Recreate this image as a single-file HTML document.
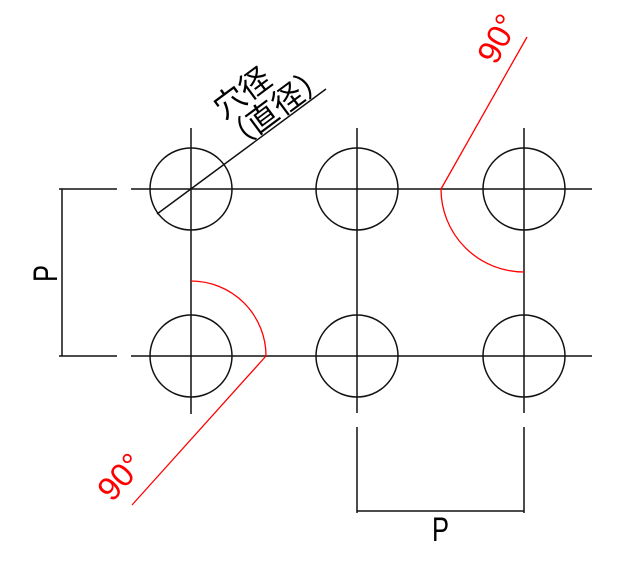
<!DOCTYPE html>
<html><head><meta charset="utf-8"><style>
html,body{margin:0;padding:0;background:#fff;}
svg{display:block;}
text{font-family:"Liberation Sans","Noto Sans CJK JP",sans-serif;}
</style></head><body>
<svg width="644" height="562" viewBox="0 0 644 562" xmlns="http://www.w3.org/2000/svg">
<g stroke="#111" stroke-width="1.5" fill="none">
<circle cx="191" cy="189" r="41"/>
<circle cx="357" cy="189" r="41"/>
<circle cx="524" cy="189" r="41"/>
<circle cx="191" cy="356" r="41"/>
<circle cx="357" cy="356" r="41"/>
<circle cx="524" cy="356" r="41"/>
<line x1="131" y1="189" x2="592" y2="189"/>
<line x1="131" y1="356" x2="592" y2="356"/>
<line x1="59" y1="189" x2="117" y2="189"/>
<line x1="59" y1="356" x2="117" y2="356"/>
<line x1="62" y1="189" x2="62" y2="356"/>
<line x1="191" y1="128" x2="191" y2="414"/>
<line x1="357" y1="128" x2="357" y2="413"/>
<line x1="524" y1="128" x2="524" y2="413"/>
<line x1="357" y1="427" x2="357" y2="513"/>
<line x1="524" y1="427" x2="524" y2="513"/>
<line x1="357" y1="511" x2="524" y2="511"/>
<line x1="157" y1="214" x2="326" y2="89"/>
</g>
<g stroke="#f00" stroke-width="1.3" fill="none">
<path d="M191 281 A75 75 0 0 1 266 356"/>
<line x1="266" y1="356" x2="132" y2="505"/>
<path d="M441 189 A83 83 0 0 0 524 272"/>
<line x1="441" y1="189" x2="527" y2="37"/>
</g>
<text x="0" y="0" font-size="34" fill="#000" transform="translate(57,282) rotate(-90) scale(0.75,1)">P</text>
<text x="0" y="0" font-size="34" fill="#000" transform="translate(432,541) scale(0.75,1)">P</text>
<text x="0" y="0" font-size="33" fill="#f00" transform="translate(112,503) rotate(-48)">90°</text>
<text x="0" y="0" font-size="33" fill="#f00" transform="translate(496,66) rotate(-62)">90°</text>
<text x="0" y="0" font-size="31" fill="#000" transform="translate(224,120) rotate(-36.5)">穴径</text>
<text x="0" y="0" font-size="31" fill="#000" transform="translate(232,154) rotate(-36.5)">（直径）</text>
</svg>
</body></html>
